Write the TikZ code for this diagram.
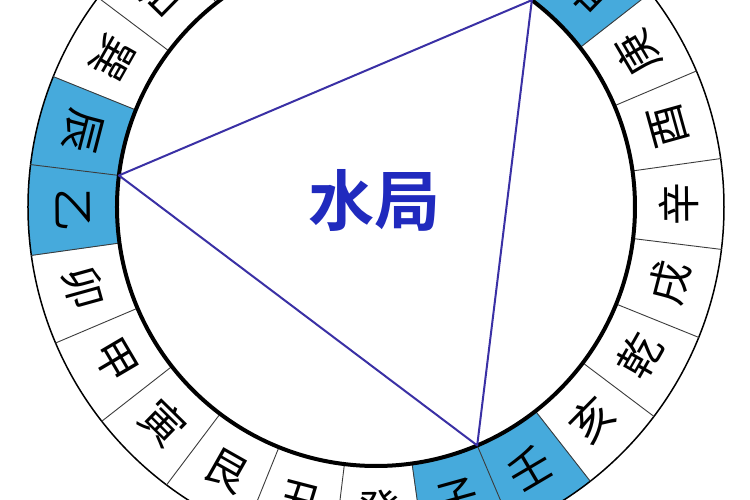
\documentclass[tikz,border=0pt]{standalone}
\usepackage{fontspec}
\newfontfamily\cjk{Noto Sans CJK SC}
\newfontfamily\cjkbold{Noto Sans CJK SC Bold}
\newcommand{\zifont}{\cjk\fontsize{43}{43}\selectfont}
\newcommand{\jufont}{\cjkbold\fontsize{66}{66}\selectfont}
\begin{document}
\begin{tikzpicture}[x=1pt,y=1pt]

\definecolor{BLACK}{RGB}{0,0,0}
\definecolor{WHITE}{RGB}{255,255,255}
\useasboundingbox (-376,-293) rectangle (374,207);
\clip (-376,-293) rectangle (374,207);
\fill[WHITE] (-376,-293) rectangle (374,207);
\definecolor{CYAN}{RGB}{70,170,220}
\draw[CYAN, solid, line join=round, line width=0.5, fill=CYAN]
	(38:259) -- (38:348) arc[start angle=38, end angle=68, radius=348] -- (68:259) arc[start angle=68, end angle=38, radius=259] -- cycle;
\draw[CYAN, solid, line join=round, line width=0.5, fill=CYAN]
	(158:259) -- (158:348) arc[start angle=158, end angle=188, radius=348] -- (188:259) arc[start angle=188, end angle=158, radius=259] -- cycle;
\draw[CYAN, solid, line join=round, line width=0.5, fill=CYAN]
	(278:259) -- (278:348) arc[start angle=278, end angle=308, radius=348] -- (308:259) arc[start angle=308, end angle=278, radius=259] -- cycle;
\draw[BLACK, solid, line join=round, line cap=round, line width=1.5]
	(0,0) circle[radius=348];
\definecolor{GREY}{RGB}{60,60,60}
\draw[GREY, solid, line cap=round, line width=0.9]
	(8:259) -- (8:348) (23:259) -- (23:348) (38:259) -- (38:348) (53:259) -- (53:348)
	(68:259) -- (68:348) (83:259) -- (83:348) (98:259) -- (98:348) (113:259) -- (113:348)
	(128:259) -- (128:348) (143:259) -- (143:348) (158:259) -- (158:348) (173:259) -- (173:348)
	(188:259) -- (188:348) (203:259) -- (203:348) (218:259) -- (218:348) (233:259) -- (233:348)
	(248:259) -- (248:348) (263:259) -- (263:348) (278:259) -- (278:348) (293:259) -- (293:348)
	(308:259) -- (308:348) (323:259) -- (323:348) (338:259) -- (338:348) (353:259) -- (353:348);
\draw[BLACK, solid, line join=round, line cap=round, line width=4, fill=WHITE]
	(0,0) circle[radius=259];
\coordinate (kunshen) at (53:259);
\coordinate (chenyi) at (173:259);
\coordinate (ziren) at (293:259);
\definecolor{INDIGO}{RGB}{58,48,165}
\draw[INDIGO, solid, line join=round, line cap=round, line width=2]
	(kunshen) -- (chenyi) -- (ziren) -- cycle;
\draw[BLACK]
	(0.5:303) node[rotate=90.5, font=\zifont, BLACK] (xin) {辛};
\draw[BLACK]
	(15.5:303) node[rotate=105.5, font=\zifont, BLACK] (you) {酉};
\draw[BLACK]
	(30.5:303) node[rotate=120.5, font=\zifont, BLACK] (geng) {庚};
\draw[BLACK]
	(45.5:303) node[rotate=135.5, font=\zifont, BLACK] (shen) {申};
\draw[BLACK]
	(60.5:303) node[rotate=150.5, font=\zifont, BLACK] (kun) {坤};
\draw[BLACK]
	(75.5:303) node[rotate=165.5, font=\zifont, BLACK] (wei) {未};
\draw[BLACK]
	(90.5:303) node[rotate=180.5, font=\zifont, BLACK] (ding) {丁};
\draw[BLACK]
	(105.5:303) node[rotate=195.5, font=\zifont, BLACK] (wu) {午};
\draw[BLACK]
	(120.5:303) node[rotate=210.5, font=\zifont, BLACK] (bing) {丙};
\draw[BLACK]
	(135.5:303) node[rotate=225.5, font=\zifont, BLACK] (si) {巳};
\draw[BLACK]
	(150.5:303) node[rotate=240.5, font=\zifont, BLACK] (xun) {巽};
\draw[BLACK]
	(165.5:303) node[rotate=255.5, font=\zifont, BLACK] (chen) {辰};
\draw[BLACK]
	(180.5:303) node[rotate=270.5, font=\zifont, BLACK] (yi) {乙};
\draw[BLACK]
	(195.5:303) node[rotate=285.5, font=\zifont, BLACK] (mao) {卯};
\draw[BLACK]
	(210.5:303) node[rotate=300.5, font=\zifont, BLACK] (jia) {甲};
\draw[BLACK]
	(225.5:303) node[rotate=315.5, font=\zifont, BLACK] (yin) {寅};
\draw[BLACK]
	(240.5:303) node[rotate=330.5, font=\zifont, BLACK] (gen) {艮};
\draw[BLACK]
	(255.5:303) node[rotate=345.5, font=\zifont, BLACK] (chou) {丑};
\draw[BLACK]
	(270.5:303) node[rotate=360.5, font=\zifont, BLACK] (gui) {癸};
\draw[BLACK]
	(285.5:303) node[rotate=375.5, font=\zifont, BLACK] (zi) {子};
\draw[BLACK]
	(300.5:303) node[rotate=390.5, font=\zifont, BLACK] (ren) {壬};
\draw[BLACK]
	(315.5:303) node[rotate=405.5, font=\zifont, BLACK] (hai) {亥};
\draw[BLACK]
	(330.5:303) node[rotate=420.5, font=\zifont, BLACK] (qian) {乾};
\draw[BLACK]
	(345.5:303) node[rotate=435.5, font=\zifont, BLACK] (xu) {戌};
\definecolor{BLUE}{RGB}{32,42,190}
\draw[BLACK]
	(-1,7) node[font=\jufont, BLUE] (shuiju) {水局};
\end{tikzpicture}
\end{document}
